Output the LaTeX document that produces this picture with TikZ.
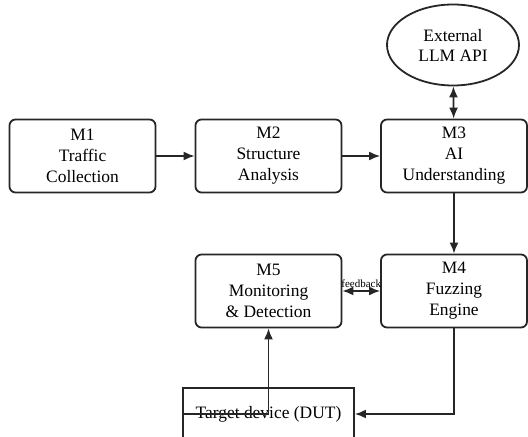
\documentclass[tikz,border=0pt]{standalone}
\usepackage{fontspec}
\setmainfont{Liberation Serif}
\usetikzlibrary{shapes.geometric,arrows.meta}
\begin{document}
\begin{tikzpicture}[x=1bp,y=-1bp,
  modbox/.style={draw=black!85,line width=1.8bp,rounded corners=6bp,minimum width=146bp,minimum height=73bp,align=center,inner sep=0pt,font=\fontsize{17.5}{21}\selectfont},
  conn/.style={draw=black!85,line width=1.8bp,-{Latex[length=11bp,width=9bp]}},
  dconn/.style={draw=black!85,line width=1.8bp,{Latex[length=11bp,width=9bp]}-{Latex[length=11bp,width=9bp]}}]
\clip (0,0) rectangle (528,437);
\useasboundingbox (0,0) rectangle (528,437);
\node[modbox] (m1) at (82.5,156) {M1\\Traffic\\Collection};
\node[modbox] (m2) at (268.5,156) {M2\\Structure\\Analysis};
\node[modbox] (m3) at (454,156) {M3\\AI\\Understanding};
\node[modbox] (m5) at (268.5,291) {M5\\Monitoring\\\& Detection};
\node[modbox] (m4) at (454,291) {M4\\Fuzzing\\Engine};
\node[draw=black!85,line width=1.8bp,ellipse,minimum width=132bp,minimum height=81bp,align=center,inner sep=0pt,font=\fontsize{17.5}{20}\selectfont] (llm) at (453,45) {External\\LLM API};
\node[draw=black!85,line width=1.8bp,minimum width=171bp,minimum height=52bp,inner sep=0pt,font=\fontsize{17.5}{20}\selectfont] (dut) at (268.5,414) {Target device (DUT)};
\draw[conn] (m1) -- (m2);
\draw[conn] (m2) -- (m3);
\draw[dconn] (llm) -- (m3);
\draw[conn] (m3) -- (m4);
\draw[dconn] (m5) -- node[above=-1bp,font=\fontsize{11}{12}\selectfont] (fb) {feedback} (m4);
\draw[conn] (m4.south) |- (dut.east);
\draw[conn] (dut.west) -| (m5.south);
\end{tikzpicture}
\end{document}
